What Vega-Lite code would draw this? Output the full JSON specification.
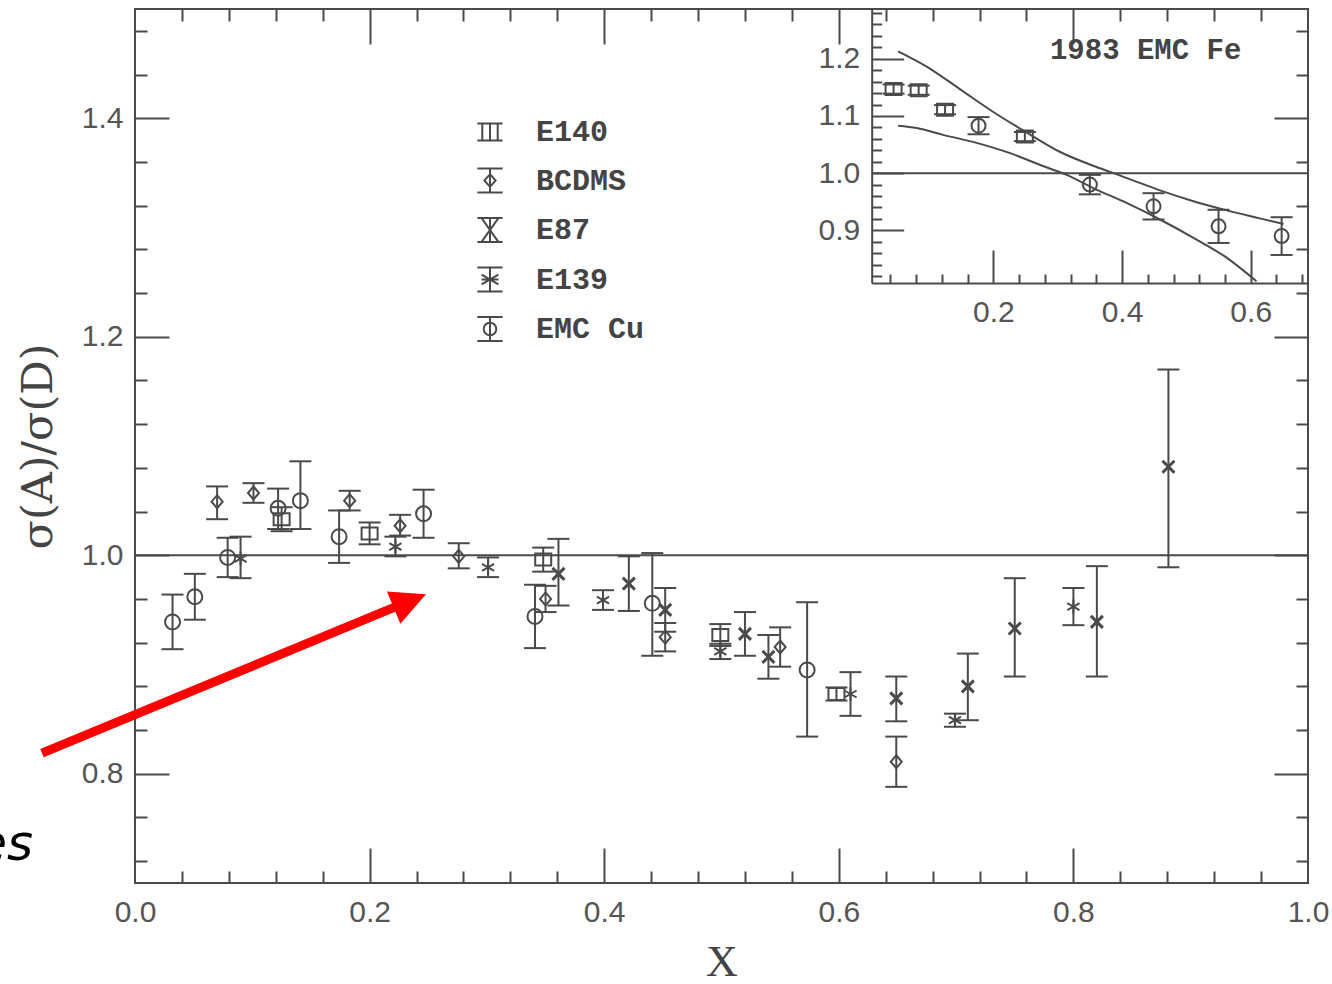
{
"$schema":"https://vega.github.io/schema/vega-lite/v6.json",
"width":1173,"height":874,"autosize":"none",
"padding":{"left":135,"top":9,"right":24,"bottom":101},
"background":"#ffffff",
"config":{
 "view":{"stroke":"#4a4a4a","strokeWidth":2},
 "axis":{"grid":false,"domain":false,"tickColor":"#4a4a4a","tickWidth":2,"labelColor":"#555555","labelFont":"Liberation Sans","labelFontSize":30,"labelFlush":false,"labelOverlap":false,"format":".1f"}
},
"datasets":{
 "main":[
  {"s":"EMC Cu","x":0.032,"y":0.939,"lo":0.914,"hi":0.964},
  {"s":"EMC Cu","x":0.051,"y":0.962,"lo":0.941,"hi":0.983},
  {"s":"EMC Cu","x":0.079,"y":0.998,"lo":0.980,"hi":1.016},
  {"s":"EMC Cu","x":0.122,"y":1.043,"lo":1.024,"hi":1.061},
  {"s":"EMC Cu","x":0.141,"y":1.050,"lo":1.024,"hi":1.086},
  {"s":"EMC Cu","x":0.174,"y":1.017,"lo":0.993,"hi":1.041},
  {"s":"EMC Cu","x":0.246,"y":1.038,"lo":1.016,"hi":1.060},
  {"s":"EMC Cu","x":0.341,"y":0.944,"lo":0.915,"hi":0.973},
  {"s":"EMC Cu","x":0.441,"y":0.956,"lo":0.908,"hi":1.002},
  {"s":"EMC Cu","x":0.573,"y":0.895,"lo":0.834,"hi":0.957},
  {"s":"BCDMS","x":0.070,"y":1.049,"lo":1.033,"hi":1.063},
  {"s":"BCDMS","x":0.101,"y":1.057,"lo":1.048,"hi":1.066},
  {"s":"BCDMS","x":0.183,"y":1.050,"lo":1.041,"hi":1.059},
  {"s":"BCDMS","x":0.226,"y":1.027,"lo":1.018,"hi":1.037},
  {"s":"BCDMS","x":0.276,"y":0.999,"lo":0.988,"hi":1.011},
  {"s":"BCDMS","x":0.350,"y":0.960,"lo":0.948,"hi":0.972},
  {"s":"BCDMS","x":0.452,"y":0.925,"lo":0.912,"hi":0.938},
  {"s":"BCDMS","x":0.550,"y":0.916,"lo":0.898,"hi":0.934},
  {"s":"BCDMS","x":0.649,"y":0.811,"lo":0.788,"hi":0.834},
  {"s":"E140","x":0.125,"y":1.033,"lo":1.022,"hi":1.044},
  {"s":"E140","x":0.200,"y":1.020,"lo":1.010,"hi":1.030},
  {"s":"E140","x":0.348,"y":0.996,"lo":0.985,"hi":1.007},
  {"s":"E140","x":0.499,"y":0.927,"lo":0.917,"hi":0.937},
  {"s":"E140","x":0.598,"y":0.873,"lo":0.867,"hi":0.879},
  {"s":"E87","x":0.361,"y":0.983,"lo":0.954,"hi":1.015},
  {"s":"E87","x":0.421,"y":0.974,"lo":0.949,"hi":0.999},
  {"s":"E87","x":0.452,"y":0.950,"lo":0.930,"hi":0.970},
  {"s":"E87","x":0.520,"y":0.928,"lo":0.908,"hi":0.948},
  {"s":"E87","x":0.540,"y":0.907,"lo":0.887,"hi":0.927},
  {"s":"E87","x":0.649,"y":0.869,"lo":0.848,"hi":0.889},
  {"s":"E87","x":0.710,"y":0.880,"lo":0.849,"hi":0.910},
  {"s":"E87","x":0.750,"y":0.933,"lo":0.889,"hi":0.979},
  {"s":"E87","x":0.820,"y":0.939,"lo":0.889,"hi":0.990},
  {"s":"E87","x":0.881,"y":1.081,"lo":0.989,"hi":1.170},
  {"s":"E139","x":0.090,"y":0.997,"lo":0.979,"hi":1.017},
  {"s":"E139","x":0.222,"y":1.008,"lo":0.999,"hi":1.017},
  {"s":"E139","x":0.301,"y":0.989,"lo":0.980,"hi":0.998},
  {"s":"E139","x":0.399,"y":0.959,"lo":0.950,"hi":0.968},
  {"s":"E139","x":0.499,"y":0.912,"lo":0.905,"hi":0.919},
  {"s":"E139","x":0.610,"y":0.873,"lo":0.853,"hi":0.893},
  {"s":"E139","x":0.699,"y":0.849,"lo":0.843,"hi":0.855},
  {"s":"E139","x":0.800,"y":0.953,"lo":0.936,"hi":0.970}
 ],
 "inset":[
  {"s":"E140","x":0.045,"y":1.147,"lo":1.139,"hi":1.155},
  {"s":"E140","x":0.084,"y":1.145,"lo":1.137,"hi":1.153},
  {"s":"E140","x":0.125,"y":1.111,"lo":1.103,"hi":1.119},
  {"s":"E140","x":0.249,"y":1.064,"lo":1.056,"hi":1.072},
  {"s":"EMC Fe","x":0.177,"y":1.083,"lo":1.068,"hi":1.098},
  {"s":"EMC Fe","x":0.350,"y":0.980,"lo":0.963,"hi":0.997},
  {"s":"EMC Fe","x":0.449,"y":0.942,"lo":0.919,"hi":0.965},
  {"s":"EMC Fe","x":0.550,"y":0.907,"lo":0.878,"hi":0.936},
  {"s":"EMC Fe","x":0.648,"y":0.890,"lo":0.857,"hi":0.923}
 ],
 "curves":[
  {"c":"upper","x":0.052,"y":1.213},{"c":"upper","x":0.097,"y":1.186},{"c":"upper","x":0.148,"y":1.147},
  {"c":"upper","x":0.200,"y":1.107},{"c":"upper","x":0.252,"y":1.071},{"c":"upper","x":0.304,"y":1.037},
  {"c":"upper","x":0.355,"y":1.013},{"c":"upper","x":0.387,"y":1.000},{"c":"upper","x":0.418,"y":0.987},
  {"c":"upper","x":0.459,"y":0.970},{"c":"upper","x":0.511,"y":0.951},{"c":"upper","x":0.563,"y":0.935},
  {"c":"upper","x":0.614,"y":0.921},{"c":"upper","x":0.651,"y":0.911},
  {"c":"lower","x":0.052,"y":1.083},{"c":"lower","x":0.081,"y":1.079},{"c":"lower","x":0.122,"y":1.067},
  {"c":"lower","x":0.174,"y":1.053},{"c":"lower","x":0.226,"y":1.035},{"c":"lower","x":0.278,"y":1.012},
  {"c":"lower","x":0.314,"y":0.997},{"c":"lower","x":0.355,"y":0.974},{"c":"lower","x":0.407,"y":0.948},
  {"c":"lower","x":0.459,"y":0.919},{"c":"lower","x":0.511,"y":0.887},{"c":"lower","x":0.563,"y":0.852},
  {"c":"lower","x":0.609,"y":0.811}
 ],
 "arrow":[{"x":-0.0793,"y":0.8188,"x2":0.2343,"y2":0.9582}],
 "note":[{"x":-0.087,"y":0.7346,"t":"es"}],
 "insetTitle":[{"x":0.288,"y":1.215,"t":"1983 EMC Fe"}]
},
"layer":[
 {
  "layer":[
   {"data":{"name":"main"},"mark":{"type":"point","opacity":0},
    "encoding":{
     "x":{"field":"x","type":"quantitative","scale":{"domain":[0,1],"nice":false,"zero":false},
          "axis":{"orient":"bottom","values":[0,0.2,0.4,0.6,0.8,1],"ticks":false,"labelPadding":14,"title":"X","titleFont":"Liberation Serif","titleFontSize":44,"titleFontWeight":"normal","titleColor":"#444444","titlePadding":13}},
     "y":{"field":"y","type":"quantitative","scale":{"domain":[0.7,1.5],"nice":false,"zero":false},
          "axis":{"orient":"left","values":[0.8,1,1.2,1.4],"ticks":false,"labelPadding":12,"title":"σ(A)/σ(D)","titleFont":"DejaVu Serif","titleFontSize":43,"titleFontWeight":"normal","titleColor":"#444444","titlePadding":21}}
    }},
   {"data":{"name":"main"},"mark":{"type":"point","opacity":0},
    "encoding":{
     "x":{"field":"x","type":"quantitative","scale":{"domain":[0,1],"nice":false,"zero":false},
          "axis":{"orient":"top","offset":-874,"values":[0.2,0.4,0.6,0.8],"labels":false,"tickSize":35,"title":null}},
     "y":{"field":"y","type":"quantitative","scale":{"domain":[0.7,1.5],"nice":false,"zero":false},
          "axis":{"orient":"right","offset":-1173,"values":[0.8,1,1.2,1.4],"labels":false,"tickSize":34,"title":null}}
    }},
   {"data":{"name":"main"},"mark":{"type":"point","opacity":0},
    "encoding":{
     "x":{"field":"x","type":"quantitative","scale":{"domain":[0,1],"nice":false,"zero":false},
          "axis":{"orient":"top","offset":-874,"values":[0.04,0.08,0.12,0.16,0.24,0.28,0.32,0.36,0.44,0.48,0.52,0.56,0.64,0.68,0.72,0.76,0.84,0.88,0.92,0.96],"labels":false,"tickSize":12,"title":null}},
     "y":{"field":"y","type":"quantitative","scale":{"domain":[0.7,1.5],"nice":false,"zero":false},
          "axis":{"orient":"right","offset":-1173,"values":[0.72,0.76,0.84,0.88,0.92,0.96,1.04,1.08,1.12,1.16,1.24,1.28,1.32,1.36,1.44,1.48],"labels":false,"tickSize":12,"title":null}}
    }},
   {"data":{"name":"main"},"mark":{"type":"point","opacity":0},
    "encoding":{
     "x":{"field":"x","type":"quantitative","scale":{"domain":[0,1],"nice":false,"zero":false},
          "axis":{"orient":"bottom","offset":-874,"values":[0.2,0.4,0.6,0.8],"labels":false,"tickSize":35,"title":null}},
     "y":{"field":"y","type":"quantitative","scale":{"domain":[0.7,1.5],"nice":false,"zero":false},
          "axis":{"orient":"left","offset":-1173,"values":[0.8,1,1.2,1.4],"labels":false,"tickSize":34,"title":null}}
    }},
   {"data":{"name":"main"},"mark":{"type":"point","opacity":0},
    "encoding":{
     "x":{"field":"x","type":"quantitative","scale":{"domain":[0,1],"nice":false,"zero":false},
          "axis":{"orient":"bottom","offset":-874,"values":[0.04,0.08,0.12,0.16,0.24,0.28,0.32,0.36,0.44,0.48,0.52,0.56,0.64,0.68,0.72,0.76,0.84,0.88,0.92,0.96],"labels":false,"tickSize":12,"title":null}},
     "y":{"field":"y","type":"quantitative","scale":{"domain":[0.7,1.5],"nice":false,"zero":false},
          "axis":{"orient":"left","offset":-1173,"values":[0.72,0.76,0.84,0.88,0.92,0.96,1.04,1.08,1.12,1.16,1.24,1.28,1.32,1.36,1.44,1.48],"labels":false,"tickSize":12,"title":null}}
    }},
   {"data":{"values":[{}]},"mark":{"type":"rule","stroke":"#4a4a4a","strokeWidth":2},
    "encoding":{"y":{"datum":1,"type":"quantitative","scale":{"domain":[0.7,1.5],"nice":false,"zero":false},"axis":null}}},
   {"data":{"name":"main"},"mark":{"type":"rule","stroke":"#4a4a4a","strokeWidth":2},
    "encoding":{
     "x":{"field":"x","type":"quantitative","scale":{"domain":[0,1],"nice":false,"zero":false},"axis":null},
     "y":{"field":"lo","type":"quantitative","scale":{"domain":[0.7,1.5],"nice":false,"zero":false},"axis":null},
     "y2":{"field":"hi"}}},
   {"data":{"name":"main"},"transform":[{"fold":["lo","hi"],"as":["k","v"]}],
    "mark":{"type":"point","shape":"M-1,0H1","size":484,"filled":false,"stroke":"#4a4a4a","strokeWidth":2,"opacity":1},
    "encoding":{
     "x":{"field":"x","type":"quantitative","scale":{"domain":[0,1],"nice":false,"zero":false},"axis":null},
     "y":{"field":"v","type":"quantitative","scale":{"domain":[0.7,1.5],"nice":false,"zero":false},"axis":null}}},
   {"data":{"name":"main"},"transform":[{"filter":{"field":"s","equal":"EMC Cu"}}],
    "mark":{"type":"point","shape":"circle","size":225,"filled":false,"stroke":"#4a4a4a","strokeWidth":2,"opacity":1},
    "encoding":{
     "x":{"field":"x","type":"quantitative","scale":{"domain":[0,1],"nice":false,"zero":false},"axis":null},
     "y":{"field":"y","type":"quantitative","scale":{"domain":[0.7,1.5],"nice":false,"zero":false},"axis":null}}},
   {"data":{"name":"main"},"transform":[{"filter":{"field":"s","equal":"BCDMS"}}],
    "mark":{"type":"point","shape":"M0,-1L0.85,0L0,1L-0.85,0Z","size":169,"filled":false,"stroke":"#4a4a4a","strokeWidth":2,"opacity":1},
    "encoding":{
     "x":{"field":"x","type":"quantitative","scale":{"domain":[0,1],"nice":false,"zero":false},"axis":null},
     "y":{"field":"y","type":"quantitative","scale":{"domain":[0.7,1.5],"nice":false,"zero":false},"axis":null}}},
   {"data":{"name":"main"},"transform":[{"filter":{"field":"s","equal":"E140"}}],
    "mark":{"type":"point","shape":"M-1,-0.75H1V0.75H-1Z","size":256,"filled":false,"stroke":"#4a4a4a","strokeWidth":2,"opacity":1},
    "encoding":{
     "x":{"field":"x","type":"quantitative","scale":{"domain":[0,1],"nice":false,"zero":false},"axis":null},
     "y":{"field":"y","type":"quantitative","scale":{"domain":[0.7,1.5],"nice":false,"zero":false},"axis":null}}},
   {"data":{"name":"main"},"transform":[{"filter":{"field":"s","equal":"E87"}}],
    "mark":{"type":"point","shape":"M-1,-1L1,1M-1,1L1,-1","size":144,"filled":false,"stroke":"#4a4a4a","strokeWidth":3,"opacity":1},
    "encoding":{
     "x":{"field":"x","type":"quantitative","scale":{"domain":[0,1],"nice":false,"zero":false},"axis":null},
     "y":{"field":"y","type":"quantitative","scale":{"domain":[0.7,1.5],"nice":false,"zero":false},"axis":null}}},
   {"data":{"name":"main"},"transform":[{"filter":{"field":"s","equal":"E139"}}],
    "mark":{"type":"point","shape":"M0,-1V1M-0.87,-0.5L0.87,0.5M-0.87,0.5L0.87,-0.5","size":196,"filled":false,"stroke":"#4a4a4a","strokeWidth":2,"opacity":1},
    "encoding":{
     "x":{"field":"x","type":"quantitative","scale":{"domain":[0,1],"nice":false,"zero":false},"axis":null},
     "y":{"field":"y","type":"quantitative","scale":{"domain":[0.7,1.5],"nice":false,"zero":false},"axis":null}}},
   {"data":{"name":"main"},"mark":{"type":"point","filled":false,"opacity":0},
    "encoding":{
     "x":{"field":"x","type":"quantitative","scale":{"domain":[0,1],"nice":false,"zero":false},"axis":null},
     "y":{"field":"y","type":"quantitative","scale":{"domain":[0.7,1.5],"nice":false,"zero":false},"axis":null},
     "shape":{"field":"s","type":"nominal",
       "scale":{"domain":["E140","BCDMS","E87","E139","EMC Cu"],
         "range":["M-0.9,-0.6H0.9M-0.9,0.6H0.9M-0.55,-0.6V0.6M0.55,-0.6V0.6M0,-0.6V0.6",
                  "M-0.9,-0.85H0.9M-0.9,0.85H0.9M0,-0.85V0.85M0,-0.45L0.4,0L0,0.45L-0.4,0Z",
                  "M-0.9,-0.85H0.9M-0.9,0.85H0.9M-0.6,-0.85L0.6,0.85M0.6,-0.85L-0.6,0.85M0,-0.85V0.85",
                  "M-0.9,-0.85H0.9M-0.9,0.85H0.9M0,-0.85V0.85M-0.6,-0.35L0.6,0.35M-0.6,0.35L0.6,-0.35M-0.6,0H0.6",
                  "M-0.9,-0.85H0.9M-0.9,0.85H0.9M0,-0.85V0.85M-0.45,0A0.45,0.45,0,1,0,0.45,0A0.45,0.45,0,1,0,-0.45,0Z"]},
       "legend":{"orient":"none","legendX":340,"legendY":108,"title":null,"padding":0,"symbolSize":784,"symbolOpacity":1,
         "symbolStrokeColor":"#4a4a4a","symbolFillColor":"transparent","symbolStrokeWidth":2,
         "labelFont":"Liberation Mono","labelFontWeight":"bold","labelFontSize":30,"labelColor":"#444444","labelOffset":31,"rowPadding":17.5}}}},
   {"data":{"name":"arrow"},"mark":{"type":"rule","stroke":"#ff0000","strokeWidth":9},
    "encoding":{
     "x":{"field":"x","type":"quantitative","scale":{"domain":[0,1],"nice":false,"zero":false},"axis":null},
     "y":{"field":"y","type":"quantitative","scale":{"domain":[0.7,1.5],"nice":false,"zero":false},"axis":null},
     "x2":{"field":"x2"},"y2":{"field":"y2"}}},
   {"data":{"name":"arrow"},"mark":{"type":"point","shape":"M1,0L-1,-1L-1,1Z","size":1225,"filled":true,"fill":"#ff0000","opacity":1,"angle":337.5,"strokeWidth":0},
    "encoding":{
     "x":{"field":"x2","type":"quantitative","scale":{"domain":[0,1],"nice":false,"zero":false},"axis":null},
     "y":{"field":"y2","type":"quantitative","scale":{"domain":[0.7,1.5],"nice":false,"zero":false},"axis":null}}},
   {"data":{"name":"note"},"mark":{"type":"text","font":"DejaVu Sans","fontStyle":"italic","fontSize":50,"align":"right","baseline":"middle","color":"#000000"},
    "encoding":{
     "x":{"field":"x","type":"quantitative","scale":{"domain":[0,1],"nice":false,"zero":false},"axis":null},
     "y":{"field":"y","type":"quantitative","scale":{"domain":[0.7,1.5],"nice":false,"zero":false},"axis":null},
     "text":{"field":"t"}}}
  ],
  "resolve":{"axis":{"x":"independent","y":"independent"}}
 },
 {
  "layer":[
   {"data":{"name":"inset"},"mark":{"type":"point","opacity":0},
    "encoding":{
     "x":{"field":"x","type":"quantitative","scale":{"domain":[0.011,0.689],"range":[736.7,1173],"nice":false,"zero":false},
          "axis":{"orient":"bottom","offset":-600,"values":[0.2,0.4,0.6],"ticks":false,"domain":true,"domainColor":"#4a4a4a","domainWidth":2,"labelPadding":14,"title":null}},
     "y":{"field":"y","type":"quantitative","scale":{"domain":[0.808,1.287],"range":[274,0],"nice":false,"zero":false},
          "axis":{"orient":"left","offset":-736.7,"values":[0.9,1,1.1,1.2],"ticks":false,"domain":true,"domainColor":"#4a4a4a","domainWidth":2,"labelPadding":12,"title":null}}
    }},
   {"data":{"name":"inset"},"mark":{"type":"point","opacity":0},
    "encoding":{
     "x":{"field":"x","type":"quantitative","scale":{"domain":[0.011,0.689],"range":[736.7,1173],"nice":false,"zero":false},
          "axis":{"orient":"top","offset":-274,"values":[0.2,0.4,0.6],"labels":false,"tickSize":33,"title":null}},
     "y":{"field":"y","type":"quantitative","scale":{"domain":[0.808,1.287],"range":[274,0],"nice":false,"zero":false},
          "axis":{"orient":"right","offset":-436.3,"values":[0.9,1,1.1,1.2],"labels":false,"tickSize":32,"title":null}}
    }},
   {"data":{"name":"inset"},"mark":{"type":"point","opacity":0},
    "encoding":{
     "x":{"field":"x","type":"quantitative","scale":{"domain":[0.011,0.689],"range":[736.7,1173],"nice":false,"zero":false},
          "axis":{"orient":"top","offset":-274,"values":[0.04,0.08,0.12,0.16,0.24,0.28,0.32,0.36,0.44,0.48,0.52,0.56,0.64,0.68],"labels":false,"tickSize":9,"title":null}},
     "y":{"field":"y","type":"quantitative","scale":{"domain":[0.808,1.287],"range":[274,0],"nice":false,"zero":false},
          "axis":{"orient":"right","offset":-436.3,"values":[0.82,0.84,0.86,0.88,0.92,0.94,0.96,0.98,1.02,1.04,1.06,1.08,1.12,1.14,1.16,1.18,1.22,1.24,1.26,1.28],"labels":false,"tickSize":10,"title":null}}
    }},
   {"data":{"values":[{}]},"mark":{"type":"rule","stroke":"#4a4a4a","strokeWidth":2},
    "encoding":{
     "x":{"datum":0.011,"type":"quantitative","scale":{"domain":[0.011,0.689],"range":[736.7,1173],"nice":false,"zero":false},"axis":null},
     "x2":{"datum":0.689},
     "y":{"datum":1,"type":"quantitative","scale":{"domain":[0.808,1.287],"range":[274,0],"nice":false,"zero":false},"axis":null}}},
   {"data":{"name":"curves"},"mark":{"type":"line","stroke":"#4a4a4a","strokeWidth":2,"interpolate":"monotone"},
    "encoding":{
     "x":{"field":"x","type":"quantitative","scale":{"domain":[0.011,0.689],"range":[736.7,1173],"nice":false,"zero":false},"axis":null},
     "y":{"field":"y","type":"quantitative","scale":{"domain":[0.808,1.287],"range":[274,0],"nice":false,"zero":false},"axis":null},
     "detail":{"field":"c"}}},
   {"data":{"name":"inset"},"mark":{"type":"rule","stroke":"#4a4a4a","strokeWidth":2},
    "encoding":{
     "x":{"field":"x","type":"quantitative","scale":{"domain":[0.011,0.689],"range":[736.7,1173],"nice":false,"zero":false},"axis":null},
     "y":{"field":"lo","type":"quantitative","scale":{"domain":[0.808,1.287],"range":[274,0],"nice":false,"zero":false},"axis":null},
     "y2":{"field":"hi"}}},
   {"data":{"name":"inset"},"transform":[{"fold":["lo","hi"],"as":["k","v"]}],
    "mark":{"type":"point","shape":"M-1,0H1","size":484,"filled":false,"stroke":"#4a4a4a","strokeWidth":2,"opacity":1},
    "encoding":{
     "x":{"field":"x","type":"quantitative","scale":{"domain":[0.011,0.689],"range":[736.7,1173],"nice":false,"zero":false},"axis":null},
     "y":{"field":"v","type":"quantitative","scale":{"domain":[0.808,1.287],"range":[274,0],"nice":false,"zero":false},"axis":null}}},
   {"data":{"name":"inset"},"transform":[{"filter":{"field":"s","equal":"EMC Fe"}}],
    "mark":{"type":"point","shape":"circle","size":196,"filled":false,"stroke":"#4a4a4a","strokeWidth":2,"opacity":1},
    "encoding":{
     "x":{"field":"x","type":"quantitative","scale":{"domain":[0.011,0.689],"range":[736.7,1173],"nice":false,"zero":false},"axis":null},
     "y":{"field":"y","type":"quantitative","scale":{"domain":[0.808,1.287],"range":[274,0],"nice":false,"zero":false},"axis":null}}},
   {"data":{"name":"inset"},"transform":[{"filter":{"field":"s","equal":"E140"}}],
    "mark":{"type":"point","shape":"M-1,-0.75H1V0.75H-1Z","size":256,"filled":false,"stroke":"#4a4a4a","strokeWidth":2,"opacity":1},
    "encoding":{
     "x":{"field":"x","type":"quantitative","scale":{"domain":[0.011,0.689],"range":[736.7,1173],"nice":false,"zero":false},"axis":null},
     "y":{"field":"y","type":"quantitative","scale":{"domain":[0.808,1.287],"range":[274,0],"nice":false,"zero":false},"axis":null}}},
   {"data":{"name":"insetTitle"},"mark":{"type":"text","font":"Liberation Mono","fontWeight":"bold","fontSize":29,"align":"left","baseline":"middle","color":"#444444"},
    "encoding":{
     "x":{"field":"x","type":"quantitative","scale":{"domain":[0.011,0.689],"range":[736.7,1173],"nice":false,"zero":false},"axis":null},
     "y":{"field":"y","type":"quantitative","scale":{"domain":[0.808,1.287],"range":[274,0],"nice":false,"zero":false},"axis":null},
     "text":{"field":"t"}}}
  ],
  "resolve":{"axis":{"x":"independent","y":"independent"}}
 }
],
"resolve":{"scale":{"x":"independent","y":"independent"},"axis":{"x":"independent","y":"independent"}}
}
